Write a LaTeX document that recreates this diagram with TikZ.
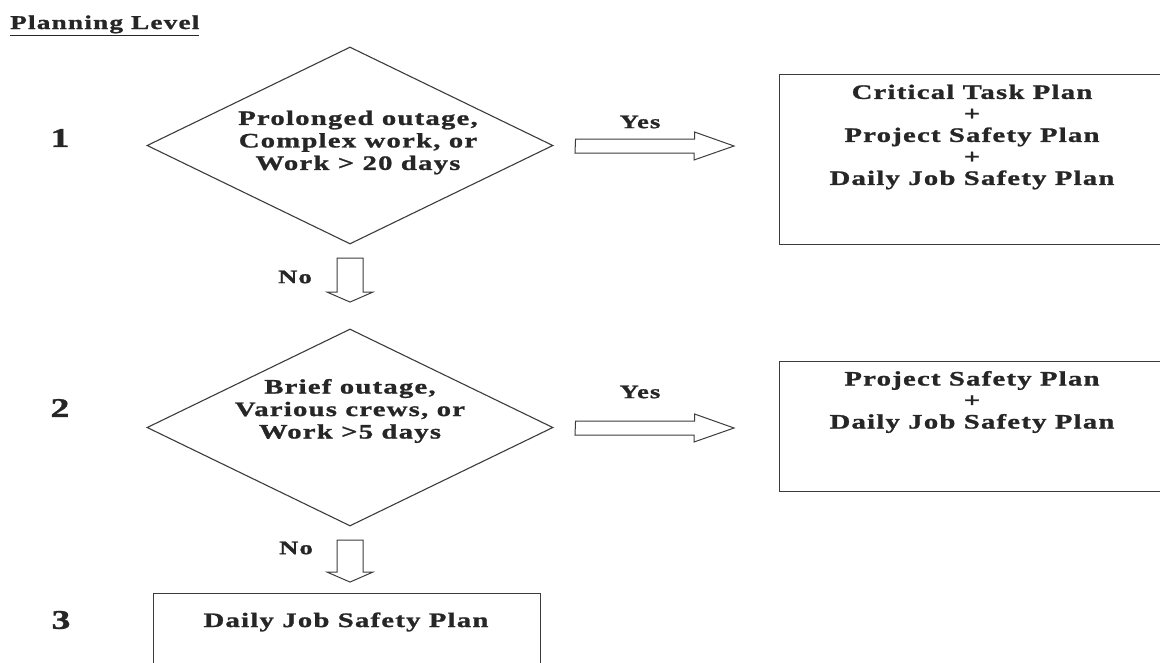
\documentclass[tikz,border=0pt]{standalone}
\usepackage{fontspec}
\setmainfont{Liberation Serif}[FakeStretch=1.4,LetterSpace=6,BoldFeatures={FakeBold=1.2}]
\usetikzlibrary{shapes.geometric,calc}
\definecolor{ink}{HTML}{262626}
\definecolor{linec}{HTML}{3C3C3C}
\begin{document}
\begin{tikzpicture}[x=1pt,y=-1pt,
  txt/.style={font=\bfseries\fontsize{20.5}{22.5}\selectfont, text=ink, align=center, inner sep=0pt},
  boxtxt/.style={font=\bfseries\fontsize{20.5}{21.5}\selectfont, text=ink, align=center, inner sep=0pt},
  lbl/.style={font=\bfseries\fontsize{19}{21}\selectfont, text=ink, inner sep=0pt},
  num/.style={font=\bfseries\fontsize{27}{30}\selectfont, text=ink, inner sep=0pt},
  dec/.style={draw=linec, line width=1.1pt, diamond, inner sep=0pt, minimum width=406pt, minimum height=197pt},
  planbox/.style={draw=linec, line width=1.2pt, rectangle, inner sep=0pt, anchor=north west},
  blockarrow/.style={draw=linec, line width=1pt, fill=white, line join=miter}]
\useasboundingbox (0,0) rectangle (1160,662);
\clip (0,0) rectangle (1160,662);
\fill[white] (0,0) rectangle (1160,662);

% title
\node[lbl, font=\bfseries\fontsize{19.5}{22}\selectfont, anchor=base west] (title) at (10,29) {\underline{Planning Level}};

% level numbers
\node[num] (n1) at (60,138) {1};
\node[num] (n2) at (60,408) {2};
\node[num] (n3) at (61,620) {3};

% decisions
\node[dec] (d1) at (350,145.5) {};
\node[txt] (t1) at (358,142.5) {Prolonged outage,\\Complex work, or\\Work > 20 days};
\node[dec] (d2) at (350,427.5) {};
\node[txt] (t2) at (350,411) {Brief outage,\\Various crews, or\\Work >5 days};

% result boxes (extending beyond the picture edge)
\node[planbox, minimum width=421pt, minimum height=170pt] (b1) at (779,74) {};
\node[boxtxt] (bt1) at (972,137) {Critical Task Plan\\+\\Project Safety Plan\\+\\Daily Job Safety Plan};
\node[planbox, minimum width=421pt, minimum height=130pt] (b2) at (779,361) {};
\node[boxtxt] (bt2) at (972,402) {Project Safety Plan\\+\\Daily Job Safety Plan};
\node[planbox, minimum width=387pt, minimum height=120pt] (b3) at (153,593) {};
\node[boxtxt] (bt3) at (346,622) {Daily Job Safety Plan};

% arrow end points
\coordinate (y1s) at ($(d1.east)+(22,0.5)$);
\coordinate (y1e) at ($(b1.west|-y1s)+(-45,0)$);
\coordinate (y2s) at ($(d2.east)+(22,0.5)$);
\coordinate (y2e) at ($(b2.west|-y2s)+(-45,0)$);
\coordinate (n1s) at ($(d1.south)+(0,13.5)$);
\coordinate (n1e) at ($(n1s)+(0,44)$);
\coordinate (n2s) at ($(d2.south)+(0,13.5)$);
\coordinate (n2e) at ($(n2s)+(0,42)$);

% Yes arrows
\draw[blockarrow] (y1s) ++(0,-7) -- ++(119,0) -- ++(0,-7) -- (y1e) -- ++(-40,14) -- ++(0,-7) -- ++(-119,0) -- cycle;
\draw[blockarrow] (y2s) ++(0,-7) -- ++(119,0) -- ++(0,-7) -- (y2e) -- ++(-40,14) -- ++(0,-7) -- ++(-119,0) -- cycle;
\node[lbl] (yes1) at (640,122) {Yes};
\node[lbl] (yes2) at (640,392) {Yes};

% No arrows
\draw[blockarrow] (n1s) ++(-13,0) -- ++(0,34) -- ++(-10,0) -- (n1e) -- ++(23,-10) -- ++(-10,0) -- ++(0,-34) -- cycle;
\draw[blockarrow] (n2s) ++(-13,0) -- ++(0,32) -- ++(-10,0) -- (n2e) -- ++(23,-10) -- ++(-10,0) -- ++(0,-32) -- cycle;
\node[lbl] (no1) at (295,277) {No};
\node[lbl] (no2) at (296,548) {No};
\end{tikzpicture}
\end{document}
